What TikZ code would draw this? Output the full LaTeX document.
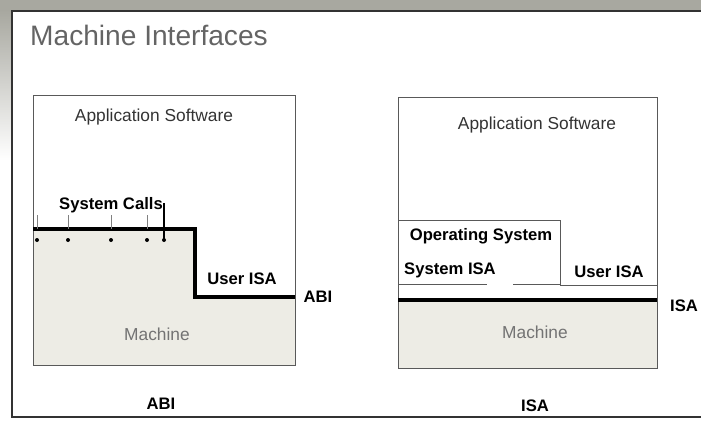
\documentclass[tikz,border=0pt]{standalone}
\usepackage{fontspec}
\setmainfont{Liberation Sans}
\usetikzlibrary{positioning}
\definecolor{photogray}{RGB}{168,168,160}
\definecolor{machinegray}{RGB}{237,236,229}
\definecolor{titlegray}{RGB}{100,100,100}

\begin{document}
\begin{tikzpicture}[x=0.03cm, y=-0.03cm,
    layer/.style={draw=black!65, line width=0.6pt},
    iface/.style={line width=2.6pt},
    lbl/.style={font=\fontsize{14.2}{16}\selectfont\bfseries, inner sep=0pt},
    soft/.style={font=\fontsize{14.8}{16}\selectfont, text=black!80, inner sep=0pt},
    mach/.style={font=\fontsize{14.8}{16}\selectfont, text=black!55, inner sep=0pt}
  ]
    \useasboundingbox (0,0) rectangle (701,424);

    %% Slide frame
    \fill[photogray] (0,0) rectangle (701,11);
    \shade[top color=photogray, bottom color=white] (0,11) rectangle (12,160);
    \draw[line width=1.4pt, black!80] (701,11) -- (12,11) -- (12,417) -- (701,417);
    \node[font=\fontsize{24}{28}\selectfont, text=titlegray, anchor=west, inner sep=0pt]
      (title) at (30,35) {Machine Interfaces};

    %% Left: ABI
    \fill[machinegray] (33,229) -- (195,229) -- (195,297) -- (295,297)
      -- (295,365) -- (33,365) -- cycle;
    \draw[layer] (33,95) rectangle (295,365);
    \draw[iface] (33,229) -- (195,229) -- (195,297) -- (295,297);
    \foreach \x in {37,68,111,147} {
      \draw[black!50, line width=0.4pt] (\x,215) -- (\x,229);
      \fill (\x,240) circle (2);
    }
    \draw[line width=1pt] (164,203) -- (164,240);
    \fill (164,240) circle (2);

    \node[soft] (appL) at (154,117) {Application Software};
    \node[lbl] (calls) at (111,205) {System Calls};
    \node[lbl] (userL) at (242,279) {User ISA};
    \node[lbl] (abiR) at (318,297) {ABI};
    \node[mach] (machL) at (157,334) {Machine};
    \node[lbl] (abiB) at (161,404) {ABI};

    %% Right: ISA
    \fill[machinegray] (398,300) rectangle (657,368);
    \draw[layer] (398,97) rectangle (657,368);
    \draw[layer] (398,220) -- (560,220) -- (560,285);
    \draw[layer] (398,284) -- (487,284);
    \draw[layer] (513,284) -- (560,284);
    \draw[layer] (560,285) -- (657,285);
    \draw[iface] (398,300) -- (657,300);

    \node[soft] (appR) at (537,125) {Application Software};
    \node[lbl] (os) at (481,236) {Operating System};
    \node[lbl] (sysisa) at (450,270) {System ISA};
    \node[lbl] (userR) at (609,272) {User ISA};
    \node[lbl] (isaR) at (684,306) {ISA};
    \node[mach] (machR) at (535,332) {Machine};
    \node[lbl] (isaB) at (535,406) {ISA};
  \end{tikzpicture}
\end{document}
